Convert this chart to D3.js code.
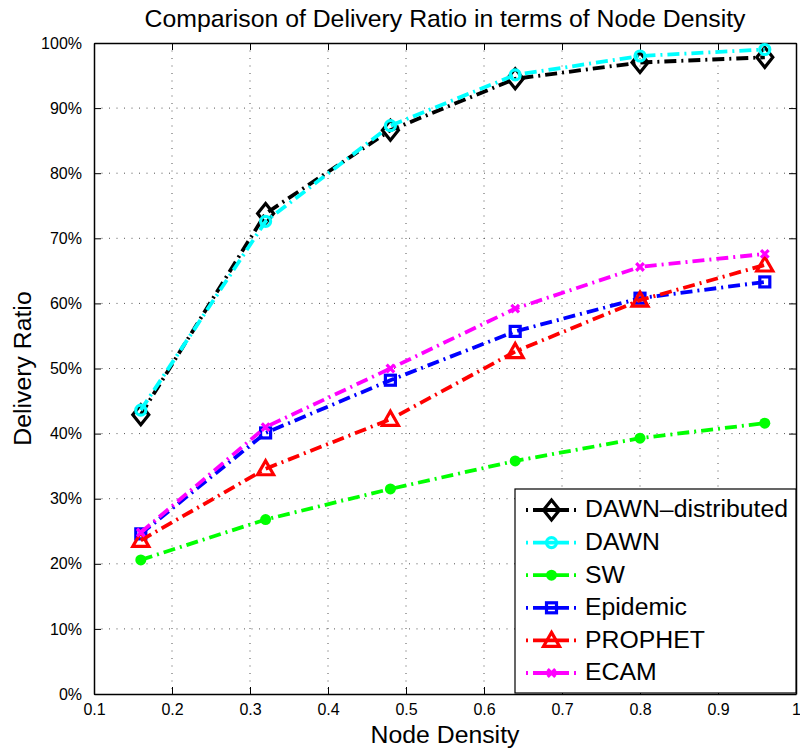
<!DOCTYPE html>
<html>
<head>
<meta charset="utf-8">
<script src="https://cdn.jsdelivr.net/npm/d3@7/dist/d3.min.js"></script>
<style>
  html, body { margin: 0; padding: 0; background: #fff; }
  svg { display: block; font-family: "Liberation Sans", Arial, Helvetica, sans-serif; }
</style>
</head>
<body>
<svg id="chart" width="800" height="748"></svg>
<script>
// Node density sampled at six values
const densities = [0.16, 0.32, 0.48, 0.64, 0.80, 0.96];

// Delivery ratio (%) per protocol
const dawnDistributed = [42.9, 73.8, 86.6, 94.5, 97.0, 97.8];
const dawn            = [43.6, 72.6, 87.3, 95.1, 98.0, 99.0];
const sw              = [20.6, 26.8, 31.5, 35.8, 39.3, 41.6];
const epidemic        = [24.6, 40.1, 48.2, 55.7, 60.8, 63.3];
const prophet         = [23.6, 34.6, 42.2, 52.6, 60.5, 65.9];
const ecam            = [24.8, 41.0, 50.0, 59.2, 65.6, 67.6];

const xTicks = [0.1, 0.2, 0.3, 0.4, 0.5, 0.6, 0.7, 0.8, 0.9, 1];
const yTicks = [0, 10, 20, 30, 40, 50, 60, 70, 80, 90, 100];

const seriesNames  = ["DAWN\u2013distributed", "DAWN", "SW", "Epidemic", "PROPHET", "ECAM"];
const seriesValues = [dawnDistributed, dawn, sw, epidemic, prophet, ecam];
const seriesColors = ["#000000", "#00ffff", "#00ff00", "#0000ff", "#ff0000", "#ff00ff"];
const seriesMarkers = ["diamond", "circle", "dot", "square", "triangle", "cross"];

const svg = d3.select("#chart");
const plotLeft = 94, plotRight = 796, plotTop = 43, plotBottom = 694;

const x = d3.scaleLinear().domain([0.1, 1]).range([plotLeft, plotRight]);
const y = d3.scaleLinear().domain([0, 100]).range([plotBottom, plotTop]);

// dotted grid
const grid = svg.append("g");
grid.selectAll("line.vx").data(xTicks.slice(1, -1)).join("line")
  .attr("x1", d => x(d)).attr("x2", d => x(d))
  .attr("y1", plotTop).attr("y2", plotBottom)
  .attr("stroke", "#555").attr("stroke-width", 1).attr("stroke-dasharray", "1,6.5");
grid.selectAll("line.hy").data(yTicks.slice(1, -1)).join("line")
  .attr("y1", d => y(d)).attr("y2", d => y(d))
  .attr("x1", plotLeft).attr("x2", plotRight)
  .attr("stroke", "#555").attr("stroke-width", 1).attr("stroke-dasharray", "1,6.5");

// axes with inward ticks on all four sides
const tickLen = 7;
const fmtX = d => d === 1 ? "1" : d3.format(".1f")(d);
const axB = svg.append("g").attr("transform", `translate(0,${plotBottom})`)
  .call(d3.axisBottom(x).tickValues(xTicks).tickFormat(fmtX).tickSizeInner(-tickLen).tickSizeOuter(0).tickPadding(10));
const axT = svg.append("g").attr("transform", `translate(0,${plotTop})`)
  .call(d3.axisTop(x).tickValues(xTicks).tickFormat("").tickSizeInner(-tickLen).tickSizeOuter(0));
const axL = svg.append("g").attr("transform", `translate(${plotLeft},0)`)
  .call(d3.axisLeft(y).tickValues(yTicks).tickFormat(d => d + "%").tickSizeInner(-tickLen).tickSizeOuter(0).tickPadding(12));
const axR = svg.append("g").attr("transform", `translate(${plotRight},0)`)
  .call(d3.axisRight(y).tickValues(yTicks).tickFormat("").tickSizeInner(-tickLen).tickSizeOuter(0));

[axB, axT, axL, axR].forEach(a => {
  a.select(".domain").attr("stroke", "#000").attr("stroke-width", 1.5);
  a.selectAll(".tick line").attr("stroke", "#000").attr("stroke-width", 1);
  a.selectAll("text").attr("font-size", 16).attr("fill", "#000")
    .attr("font-family", "'Liberation Sans', Arial, Helvetica, sans-serif");
});
axB.selectAll("text").attr("dy", "0.71em");

// marker shapes
function drawMarker(g, type, color, cx, cy) {
  const sw = 3.2;
  if (type === "diamond") {
    const w = 8, h = 10;
    g.append("path").attr("d", `M${cx},${cy - h}L${cx + w},${cy}L${cx},${cy + h}L${cx - w},${cy}Z`)
      .attr("fill", "none").attr("stroke", color).attr("stroke-width", sw);
  } else if (type === "circle") {
    g.append("circle").attr("cx", cx).attr("cy", cy).attr("r", 5)
      .attr("fill", "none").attr("stroke", color).attr("stroke-width", sw);
  } else if (type === "dot") {
    g.append("circle").attr("cx", cx).attr("cy", cy).attr("r", 5.5)
      .attr("fill", color).attr("stroke", "none");
  } else if (type === "square") {
    const s = 5;
    g.append("rect").attr("x", cx - s).attr("y", cy - s).attr("width", 2 * s).attr("height", 2 * s)
      .attr("fill", "none").attr("stroke", color).attr("stroke-width", sw);
  } else if (type === "triangle") {
    const s = 8;
    g.append("path").attr("d", `M${cx},${cy - s}L${cx + s},${cy + s * 0.75}L${cx - s},${cy + s * 0.75}Z`)
      .attr("fill", "none").attr("stroke", color).attr("stroke-width", sw).attr("stroke-linejoin", "miter");
  } else if (type === "cross") {
    const s = 3.8;
    g.append("path").attr("d", `M${cx - s},${cy - s}L${cx + s},${cy + s}M${cx - s},${cy + s}L${cx + s},${cy - s}`)
      .attr("fill", "none").attr("stroke", color).attr("stroke-width", sw);
  }
}

const dashPattern = "12,5,2,5";
const line = d3.line().x(d => x(d[0])).y(d => y(d[1]));

const plot = svg.append("g");
seriesValues.forEach((vals, i) => {
  const pts = densities.map((d, j) => [d, vals[j]]);
  plot.append("path").datum(pts).attr("d", line)
    .attr("fill", "none").attr("stroke", seriesColors[i]).attr("stroke-width", 3.8)
    .attr("stroke-dasharray", dashPattern);
  const mg = plot.append("g");
  pts.forEach(p => drawMarker(mg, seriesMarkers[i], seriesColors[i], x(p[0]), y(p[1])));
});

// legend
const lgX = 515, lgY = 489, lgW = 281, lgH = 204, rowH = 32.6;
const lg = svg.append("g");
lg.append("rect").attr("x", lgX).attr("y", lgY).attr("width", lgW).attr("height", lgH)
  .attr("fill", "#fff").attr("stroke", "#000").attr("stroke-width", 1.2);
seriesNames.forEach((name, i) => {
  const cy = lgY + 21 + i * rowH;
  lg.append("line").attr("x1", 526).attr("x2", 577).attr("y1", cy).attr("y2", cy)
    .attr("stroke", seriesColors[i]).attr("stroke-width", 3.8)
    .attr("stroke-dasharray", "2,5,36,5,2");
  drawMarker(lg, seriesMarkers[i], seriesColors[i], 551.5, cy);
  lg.append("text").attr("x", 585).attr("y", cy).attr("dy", "0.3em")
    .attr("font-size", 24.8).attr("fill", "#000").text(name);
});

// title and axis labels
svg.append("text").attr("x", (plotLeft + plotRight) / 2).attr("y", 27).attr("text-anchor", "middle")
  .attr("font-size", 24.8).attr("fill", "#000").text("Comparison of Delivery Ratio in terms of Node Density");
svg.append("text").attr("x", (plotLeft + plotRight) / 2).attr("y", 743).attr("text-anchor", "middle")
  .attr("font-size", 24.8).attr("fill", "#000").text("Node Density");
svg.append("text").attr("transform", `translate(31,${(plotTop + plotBottom) / 2}) rotate(-90)`)
  .attr("text-anchor", "middle").attr("font-size", 24.8).attr("fill", "#000").text("Delivery Ratio");
</script>
</body>
</html>
